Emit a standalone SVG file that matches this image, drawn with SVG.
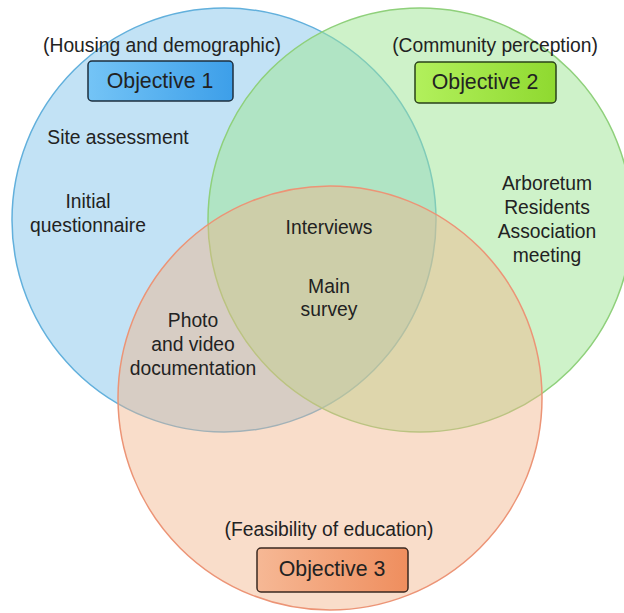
<svg xmlns="http://www.w3.org/2000/svg" width="624" height="613" viewBox="0 0 624 613">
<defs>
<linearGradient id="g1" x1="0" y1="0" x2="1" y2="0"><stop offset="0" stop-color="#74c4f6"/><stop offset="1" stop-color="#3d9fe9"/></linearGradient>
<linearGradient id="g2" x1="0" y1="0" x2="1" y2="0"><stop offset="0" stop-color="#b2f05c"/><stop offset="1" stop-color="#8fd930"/></linearGradient>
<linearGradient id="g3" x1="0" y1="0" x2="1" y2="0"><stop offset="0" stop-color="#f6b895"/><stop offset="1" stop-color="#ef8e5e"/></linearGradient>
</defs>
<style>
text{font-family:"Liberation Sans",Arial,sans-serif;font-size:19.3px;fill:#222;text-anchor:middle}
.obj{font-size:21.3px}
.circ{stroke-width:1.5}
.box{stroke-width:1.5;rx:4;ry:4}
</style>
<rect width="624" height="613" fill="#ffffff"/>
<g id="circles">
<circle id="circle1" class="circ" cx="224" cy="220" r="212" fill="rgb(133,197,235)" fill-opacity="0.5" stroke="#62b0dc"/>
<circle id="circle2" class="circ" cx="420" cy="220" r="212" fill="rgb(158,229,147)" fill-opacity="0.5" stroke="#8fd07b"/>
<circle id="circle3" class="circ" cx="330" cy="398" r="212" fill="rgb(242,180,138)" fill-opacity="0.45" stroke="#ec9476"/>
</g>
<g id="obj1">
<text x="162" y="52">(Housing and demographic)</text>
<rect class="box" x="88" y="61" width="145" height="40" fill="url(#g1)" stroke="#1e2f3e"/>
<text class="obj" x="160" y="88">Objective 1</text>
</g>
<g id="obj2">
<text x="495" y="52">(Community perception)</text>
<rect class="box" x="415" y="62" width="141" height="41" fill="url(#g2)" stroke="#2a421a"/>
<text class="obj" x="485" y="89">Objective 2</text>
</g>
<g id="obj3">
<text x="329" y="536">(Feasibility of education)</text>
<rect class="box" x="257" y="548" width="151" height="44" fill="url(#g3)" stroke="#3a2820"/>
<text class="obj" x="332" y="576">Objective 3</text>
</g>
<g id="site"><text x="118" y="144">Site assessment</text></g>
<g id="initial"><text x="88" y="208">Initial</text><text x="88" y="232">questionnaire</text></g>
<g id="photo"><text x="193" y="327">Photo</text><text x="193" y="351">and video</text><text x="193" y="375">documentation</text></g>
<g id="interviews"><text x="329" y="234">Interviews</text></g>
<g id="main"><text x="329" y="293">Main</text><text x="329" y="316">survey</text></g>
<g id="arboretum"><text x="547" y="190">Arboretum</text><text x="547" y="214">Residents</text><text x="547" y="238">Association</text><text x="547" y="262">meeting</text></g>
</svg>
